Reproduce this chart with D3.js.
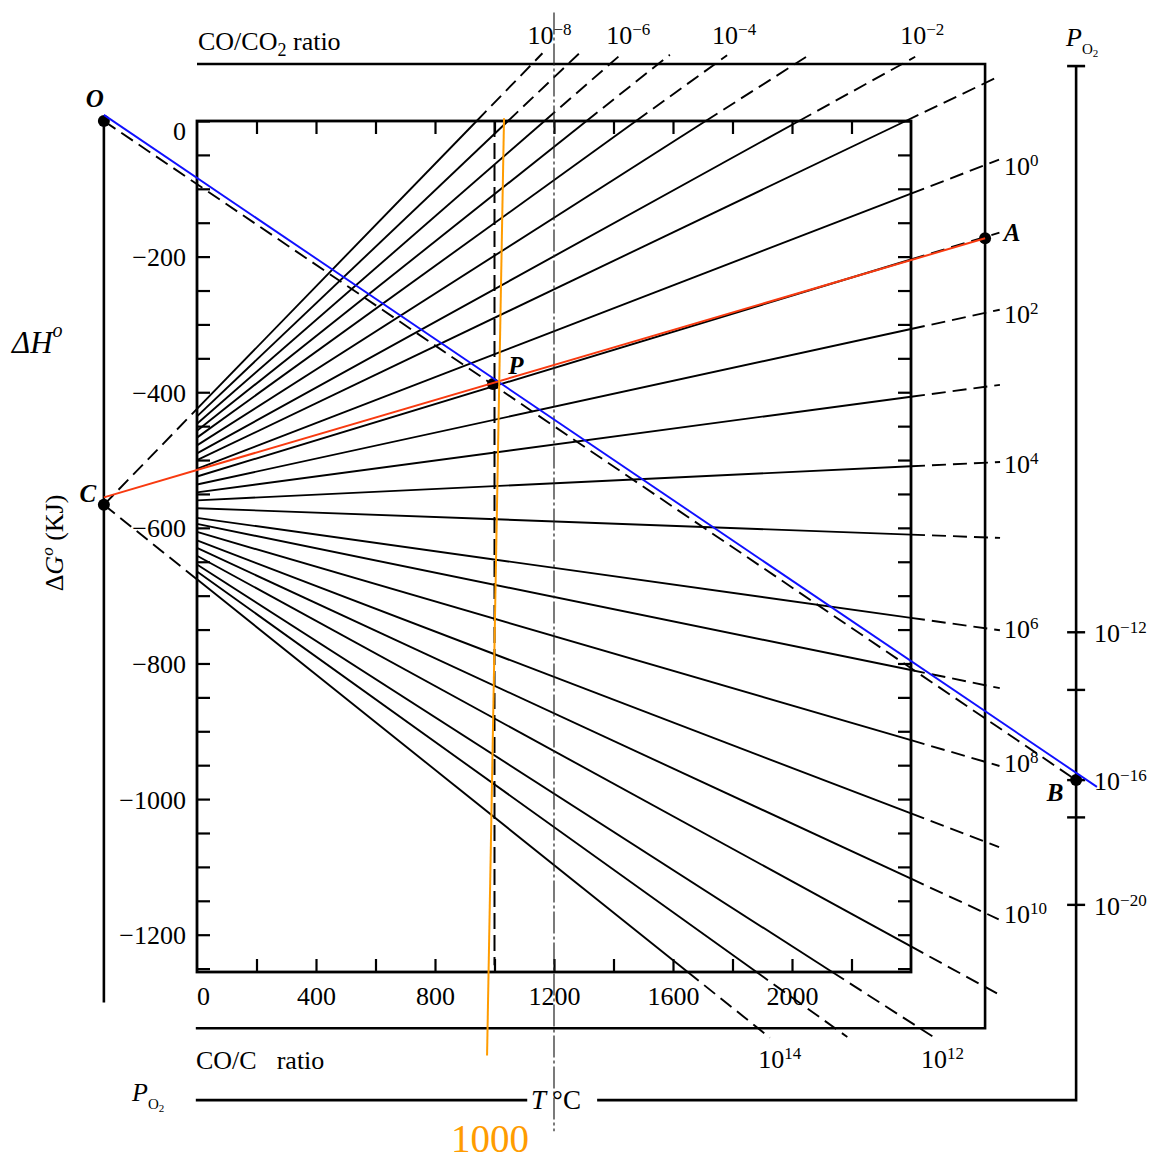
<!DOCTYPE html>
<html>
<head>
<meta charset="utf-8">
<script src="https://cdn.jsdelivr.net/npm/d3@7"></script>
<style>
  body { margin: 0; background: #fff; }
  svg text { font-family: "Liberation Serif", "DejaVu Serif", serif; fill: #000; }
</style>
</head>
<body>
<div id="chart-container"></div>
<script>
/**************************************************
 * Data
 **************************************************/

// Temperature (deg C) and free-energy (kJ) tick labels
const tempTicks = [0, 400, 800, 1200, 1600, 2000];
const dgTicks = [0, -200, -400, -600, -800, -1000, -1200];

// CO/CO2 and CO/C ratio lines: exponent of 10 and where each meets the outer frame
const ratioExponents = [-8, -7, -6, -5, -4, -3, -2, -1, 0, 1, 2, 3, 4, 5, 6, 7, 8, 9, 10, 11, 12, 13, 14];
const ratioEndT = [1126, 1247, 1388, 1550, 1741, 2010, 2370,
  2649, 2649, 2649, 2649, 2649, 2649, 2649, 2649, 2649, 2649, 2649, 2649, 2649,
  2430, 2145, 1886];
const ratioEndG = [84, 84, 84, 84, 84, 84, 84,
  56, -65, -171, -283, -392, -504, -614, -748, -832, -945, -1063, -1168, -1277,
  -1338, -1338, -1338];
const labelledExponents = [-8, -6, -4, -2, 0, 2, 4, 6, 8, 10, 12, 14];

// Named points (T in deg C, dG in kJ)
const pointNames = ["O", "C", "A", "B", "P"];
const pointT = [-313, -313, 2649, 2955, 995];
const pointG = [0, -566, -173, -972, -388];

// P_O2 scale on the right
const pO2Exponents = [-12, -14, -16, -18, -20];
const pO2G = [-754, -839, -972, -1027, -1156];
const pO2Labelled = [-12, -16, -20];

// Construction lines drawn over the chart
const blueLineT = [-313, 3025];
const blueLineG = [9, -982];
const redLineT = [-313, 2649];
const redLineG = [-555, -173];
const orangeLineT = [1032, 975];
const orangeLineG = [4, -1378];

/**************************************************
 * Layout
 **************************************************/

const W = 1156, H = 1161;
const T_MAX = 2400, G_MIN = -1255;      // inner box
const T_H_AXIS = -313;                  // dH axis
const T_FRAME_R = 2649, G_FRAME_TOP = 84, G_FRAME_BOT = -1338;
const T_PO2 = 2955, G_PO2_TOP = 81, G_PO2_BOT = -1444;

const svg = d3.select("#chart-container")
  .append("svg")
  .attr("width", W)
  .attr("height", H);

const xScale = d3.scaleLinear().domain([0, T_MAX]).range([197, 911]);
const yScale = d3.scaleLinear().domain([0, G_MIN]).range([121, 972]);

const pt = (t, g) => [xScale(t), yScale(g)];

function seg(g, a, b, opts = {}) {
  return g.append("line")
    .attr("x1", a[0]).attr("y1", a[1])
    .attr("x2", b[0]).attr("y2", b[1])
    .attr("stroke", opts.color || "#000")
    .attr("stroke-width", opts.width || 1.9)
    .attr("stroke-dasharray", opts.dash || null)
    .attr("fill", "none");
}

const sup = s => String(s).replace("-", "\u2212");

/**************************************************
 * Frames and axes
 **************************************************/

const frame = svg.append("g");

// inner box
frame.append("rect")
  .attr("x", xScale(0)).attr("y", yScale(0))
  .attr("width", xScale(T_MAX) - xScale(0))
  .attr("height", yScale(G_MIN) - yScale(0))
  .attr("fill", "none").attr("stroke", "#000").attr("stroke-width", 2.8);

// CO/CO2 - CO/C outer frame
frame.append("path")
  .attr("d", d3.line()([pt(0, G_FRAME_TOP), pt(T_FRAME_R, G_FRAME_TOP), pt(T_FRAME_R, G_FRAME_BOT), pt(-4, G_FRAME_BOT)]))
  .attr("fill", "none").attr("stroke", "#000").attr("stroke-width", 2.6);

// P_O2 frame with T label gap
frame.append("path")
  .attr("d", d3.line()([pt(T_PO2, G_PO2_TOP), pt(T_PO2, G_PO2_BOT), pt(1345, G_PO2_BOT)]))
  .attr("fill", "none").attr("stroke", "#000").attr("stroke-width", 2.6);
seg(frame, pt(-4, G_PO2_BOT), pt(1110, G_PO2_BOT), { width: 2.6 });
seg(frame, [xScale(T_PO2) - 9, yScale(G_PO2_TOP)], [xScale(T_PO2) + 9, yScale(G_PO2_TOP)], { width: 2.6 });

// dH axis
seg(frame, pt(T_H_AXIS, 0), pt(T_H_AXIS, -1300), { width: 2.6 });

// ticks on the inner box
const minorG = d3.range(0, G_MIN - 1, -50);
const minorT = d3.range(200, T_MAX, 200);

svg.append("g")
  .attr("transform", `translate(${xScale(0)},0)`)
  .call(d3.axisLeft(yScale).tickValues(minorG).tickSizeInner(-13).tickSizeOuter(0).tickFormat(""))
  .call(g => g.select(".domain").remove());
svg.append("g")
  .attr("transform", `translate(${xScale(T_MAX)},0)`)
  .call(d3.axisRight(yScale).tickValues(minorG).tickSizeInner(-13).tickSizeOuter(0).tickFormat(""))
  .call(g => g.select(".domain").remove());
svg.append("g")
  .attr("transform", `translate(0,${yScale(0)})`)
  .call(d3.axisTop(xScale).tickValues(minorT).tickSizeInner(-13).tickSizeOuter(0).tickFormat(""))
  .call(g => g.select(".domain").remove());
svg.append("g")
  .attr("transform", `translate(0,${yScale(G_MIN)})`)
  .call(d3.axisBottom(xScale).tickValues(minorT).tickSizeInner(-13).tickSizeOuter(0).tickFormat(""))
  .call(g => g.select(".domain").remove());
svg.selectAll(".tick line").attr("stroke-width", 2.2);

// labelled axes
const yAxisG = svg.append("g")
  .attr("transform", `translate(${xScale(0)},0)`)
  .call(d3.axisLeft(yScale).tickValues(dgTicks).tickSize(0).tickPadding(11)
    .tickFormat(d => d === 0 ? "0" : "\u2212" + Math.abs(d)))
  .call(g => g.select(".domain").remove());
yAxisG.selectAll("text")
  .attr("font-size", "26px")
  .attr("font-family", "Liberation Serif")
  .attr("dy", d => d === 0 ? "0.7em" : "0.35em");

const xAxisG = svg.append("g")
  .attr("transform", `translate(0,${yScale(G_MIN)})`)
  .call(d3.axisBottom(xScale).tickValues(tempTicks).tickSize(0).tickPadding(15).tickFormat(d3.format("d")))
  .call(g => g.select(".domain").remove());
xAxisG.selectAll("text")
  .attr("font-size", "26px")
  .attr("font-family", "Liberation Serif")
  .attr("dx", d => d === 0 ? 6 : 0);

/**************************************************
 * Ratio fan lines
 **************************************************/

const fan = svg.append("g");
const pivot = pt(pointT[1], pointG[1]);
const labelG = svg.append("g").attr("font-size", "26px");

ratioExponents.forEach((e, i) => {
  const p1 = pt(ratioEndT[i], ratioEndG[i]);
  const dx = p1[0] - pivot[0], dy = p1[1] - pivot[1];
  const at = t => [pivot[0] + t * dx, pivot[1] + t * dy];
  const tIn = (xScale(0) - pivot[0]) / dx;
  const exits = [(xScale(T_MAX) - pivot[0]) / dx,
    dy < 0 ? (yScale(0) - pivot[1]) / dy : (yScale(G_MIN) - pivot[1]) / dy];
  const tOut = Math.min(...exits.filter(t => t > tIn));
  const len = Math.hypot(dx, dy);
  const tEnd = 1 + 15 / len;

  seg(fan, at(tIn), at(tOut));
  seg(fan, at(tOut), at(tEnd), { dash: "14,7" });
  if (i === 0 || i === ratioExponents.length - 1) {
    seg(fan, pivot, at(tIn), { dash: "14,7" });
  }

  if (!labelledExponents.includes(e)) return;
  const end = at(tEnd);
  let lx, ly, anchor;
  if (ratioEndG[i] === G_FRAME_TOP) {
    lx = end[0] + 7; ly = yScale(G_FRAME_TOP) - 20; anchor = "middle";
  } else if (ratioEndG[i] === G_FRAME_BOT) {
    lx = end[0] + 10; ly = yScale(G_FRAME_BOT) + 40; anchor = "middle";
  } else {
    lx = xScale(T_FRAME_R) + 19; ly = p1[1] + 10; anchor = "start";
  }
  const txt = labelG.append("text")
    .attr("x", lx).attr("y", ly)
    .attr("text-anchor", anchor);
  txt.append("tspan").text("10");
  txt.append("tspan").attr("font-size", "17px").attr("dy", -9).text(sup(e));
});

/**************************************************
 * Guide lines, P_O2 scale, points
 **************************************************/

// T = 1000 dashed, T = 1200 dash-dot
seg(svg, pt(1000, 0), pt(1000, -1245), { dash: "16,6", width: 2 });
seg(svg, pt(1200, 160), pt(1200, -1490), { dash: "22,3,3,3", width: 1.2, color: "#222" });

// O -> B dashed
seg(svg, pt(pointT[0], pointG[0]), pt(pointT[3], pointG[3]), { dash: "14,7" });

// P_O2 ticks and labels
pO2Exponents.forEach((e, i) => {
  const yy = yScale(pO2G[i]);
  seg(svg, [xScale(T_PO2) - 9, yy], [xScale(T_PO2) + 9, yy], { width: 2.4 });
  if (pO2Labelled.includes(e)) {
    const txt = svg.append("text")
      .attr("x", xScale(T_PO2) + 18).attr("y", yy + 10)
      .attr("font-size", "26px");
    txt.append("tspan").text("10");
    txt.append("tspan").attr("font-size", "17px").attr("dy", -9).text(sup(e));
  }
});

// points
const labelOffsets = { O: [-9, -14], C: [-16, -3], A: [27, 3], B: [-21, 21], P: [23, -10] };
pointNames.forEach((n, i) => {
  const p = pt(pointT[i], pointG[i]);
  svg.append("circle").attr("cx", p[0]).attr("cy", p[1]).attr("r", 6).attr("fill", "#000");
  svg.append("text")
    .attr("x", p[0] + labelOffsets[n][0]).attr("y", p[1] + labelOffsets[n][1])
    .attr("text-anchor", "middle")
    .attr("font-size", "25px").attr("font-style", "italic").attr("font-weight", "bold")
    .text(n);
});

// coloured construction lines
seg(svg, pt(blueLineT[0], blueLineG[0]), pt(blueLineT[1], blueLineG[1]), { color: "#1010ff", width: 1.9 });
seg(svg, pt(redLineT[0], redLineG[0]), pt(redLineT[1], redLineG[1]), { color: "#f83a10", width: 2 });
seg(svg, pt(orangeLineT[0], orangeLineG[0]), pt(orangeLineT[1], orangeLineG[1]), { color: "#ff9c00", width: 2 });

/**************************************************
 * Titles
 **************************************************/

const coTop = svg.append("text").attr("x", 198).attr("y", 50).attr("font-size", "26px");
coTop.append("tspan").text("CO/CO");
coTop.append("tspan").attr("font-size", "18px").attr("dy", 6).text("2");
coTop.append("tspan").attr("dy", -6).text(" ratio");

const coBot = svg.append("text").attr("x", 196).attr("y", 1069).attr("font-size", "26px");
coBot.append("tspan").text("CO/C");
coBot.append("tspan").attr("dx", 20).text("ratio");

function pO2Label(xx, yy) {
  const t = svg.append("text").attr("x", xx).attr("y", yy).attr("font-size", "26px");
  t.append("tspan").attr("font-style", "italic").text("P");
  t.append("tspan").attr("font-size", "15px").attr("dy", 8).text("O");
  t.append("tspan").attr("font-size", "11px").attr("dy", 3).text("2");
}
pO2Label(1066, 46);
pO2Label(132, 1101);

const tLab = svg.append("text").attr("x", xScale(1200) + 2).attr("y", 1109)
  .attr("text-anchor", "middle").attr("font-size", "27px");
tLab.append("tspan").attr("font-style", "italic").text("T");
tLab.append("tspan").attr("dx", 6).text("\u00B0C");

// dG axis title
const dgLab = svg.append("text")
  .attr("transform", "translate(63,543) rotate(-90)")
  .attr("text-anchor", "middle").attr("font-size", "26px");
dgLab.append("tspan").text("\u0394");
dgLab.append("tspan").attr("font-style", "italic").text("G");
dgLab.append("tspan").attr("font-size", "17px").attr("dy", -10).attr("font-style", "italic").text("o");
dgLab.append("tspan").attr("dy", 10).text(" (KJ)");

// hand-written dH label
const dhLab = svg.append("text")
  .attr("x", 12).attr("y", 353)
  .attr("font-family", "DejaVu Sans").attr("font-size", "31px").attr("font-style", "italic");
dhLab.append("tspan").text("\u0394H");
dhLab.append("tspan").attr("font-size", "20px").attr("dy", -16).text("o");

// orange annotation
svg.append("text")
  .attr("x", 490).attr("y", 1152)
  .attr("text-anchor", "middle")
  .attr("font-family", "Liberation Sans")
  .attr("font-size", "39px")
  .style("fill", "#ff9c00")
  .text("1000");
</script>
</body>
</html>
